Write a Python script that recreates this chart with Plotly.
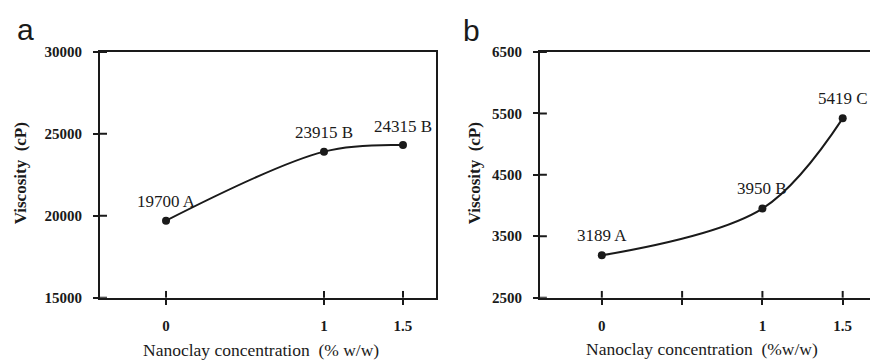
import plotly.graph_objects as go

conc = [0, 1, 1.5]
visc_a = [19700, 23915, 24315]
visc_b = [3189, 3950, 5419]
labels_a = ["19700 A", "23915 B", "24315 B"]
labels_b = ["3189 A", "3950 B", "5419 C"]
xticks_a = [0, 1, 1.5]
xticks_b = [0, 0.5, 1, 1.5]
xticklabels_a = ["0", "1", "1.5"]
xticklabels_b = ["0", "", "1", "1.5"]
yticks_a = [15000, 20000, 25000, 30000]
yticks_b = [2500, 3500, 4500, 5500, 6500]
yticklabels_a = ["15000", "20000", "25000", "30000"]
yticklabels_b = ["2500", "3500", "4500", "5500", "6500"]

INK = "#1a1a1a"
SERIF = "Liberation Serif"
tickfont = dict(family=SERIF, size=15, color=INK, weight="bold")

fig = go.Figure()

xa_dom = [100/870, 436/870]
xb_dom = [540/870, 1.0]
y_dom = [1-303/363, 1-46/363]
xa_rng = [-0.418, 1.709]
xb_rng = [-0.385, 1.67]
ya_rng = [15000, 30000]
yb_rng = [2500, 6500]

fig.add_trace(go.Scatter(x=conc, y=visc_a, mode="lines+markers", xaxis="x", yaxis="y",
                         line=dict(color=INK, width=2, shape="spline", smoothing=1.0),
                         marker=dict(color=INK, size=8), showlegend=False))
fig.add_trace(go.Scatter(x=conc, y=visc_b, mode="lines+markers", xaxis="x2", yaxis="y2",
                         line=dict(color=INK, width=2, shape="spline", smoothing=1.0),
                         marker=dict(color=INK, size=8), showlegend=False))

def axis(dom, rng, vals, text, anchor, mirror, standoff):
    return dict(domain=dom, range=rng, tickvals=vals, ticktext=text, anchor=anchor, mirror=mirror,
                showgrid=False, zeroline=False, showline=True, linecolor=INK, linewidth=2,
                ticks="outside", ticklen=5, tickwidth=2, tickcolor=INK, tickfont=tickfont,
                ticklabelstandoff=standoff)

fig.update_layout(
    width=870, height=363, margin=dict(l=0, r=0, t=0, b=0),
    paper_bgcolor="white", plot_bgcolor="white",
    xaxis=axis(xa_dom, xa_rng, xticks_a, xticklabels_a, "y", True, 8),
    yaxis=axis(y_dom, ya_rng, yticks_a, yticklabels_a, "x", True, 8),
    xaxis2=axis(xb_dom, xb_rng, xticks_b, xticklabels_b, "y2", True, 8),
    yaxis2=axis(y_dom, yb_rng, yticks_b, yticklabels_b, "x2", False, 8),
)

# inner half of the crossing tick marks, at the same tick values
IN_X = 7 / 257   # fraction of plot height
IN_Y = 7 / 336   # fraction of plot width
for xr, yr, vals in (("x", "y", xticks_a), ("x2", "y2", xticks_b)):
    for v in vals:
        fig.add_shape(type="line", xref=xr, yref=f"{yr} domain", x0=v, x1=v, y0=0, y1=IN_X,
                      line=dict(color=INK, width=2))
for xr, yr, vals in (("x", "y", yticks_a), ("x2", "y2", yticks_b)):
    for v in vals:
        fig.add_shape(type="line", xref=f"{xr} domain", yref=yr, x0=0, x1=IN_Y, y0=v, y1=v,
                      line=dict(color=INK, width=2))

annfont = dict(family=SERIF, size=17, color=INK)
for xv, yv, t in zip(conc, visc_a, labels_a):
    fig.add_annotation(x=xv, y=yv, xref="x", yref="y", text=t, showarrow=False,
                       yshift=19, font=annfont)
for i, (xv, yv, t) in enumerate(zip(conc, visc_b, labels_b)):
    if i == 2:
        fig.add_annotation(x=xv, y=yv, xref="x2", yref="y2", text=t, showarrow=False,
                           yshift=20, xshift=27, xanchor="right", font=annfont)
    else:
        fig.add_annotation(x=xv, y=yv, xref="x2", yref="y2", text=t, showarrow=False,
                           yshift=20, font=annfont)

# panel letters
fig.add_annotation(x=25/870, y=1-23/363, xref="paper", yref="paper", text="a", showarrow=False,
                   font=dict(family="Liberation Sans", size=30, color=INK), xanchor="center", yanchor="middle")
fig.add_annotation(x=471/870, y=1-24/363, xref="paper", yref="paper", text="b", showarrow=False,
                   font=dict(family="Liberation Sans", size=30, color=INK), xanchor="center", yanchor="middle")

# axis titles
titlefont = dict(family=SERIF, size=17.5, color=INK)
fig.add_annotation(x=261/870, y=1-358/363, xref="paper", yref="paper",
                   text="Nanoclay concentration&nbsp;&nbsp;(% w/w)", showarrow=False, font=titlefont,
                   xanchor="center", yanchor="middle")
fig.add_annotation(x=702/870, y=1-357/363, xref="paper", yref="paper",
                   text="Nanoclay concentration&nbsp;&nbsp;(%w/w)", showarrow=False, font=titlefont,
                   xanchor="center", yanchor="middle")
ytfont = dict(family=SERIF, size=17, color=INK, weight="bold")
fig.add_annotation(x=20/870, y=1-173/363, xref="paper", yref="paper",
                   text="Viscosity&nbsp;&nbsp;(cP)", showarrow=False, font=ytfont,
                   textangle=-90, xanchor="center", yanchor="middle")
fig.add_annotation(x=474/870, y=1-173/363, xref="paper", yref="paper",
                   text="Viscosity&nbsp;&nbsp;(cP)", showarrow=False, font=ytfont,
                   textangle=-90, xanchor="center", yanchor="middle")

fig.write_html("out.html", config={"displayModeBar": False},
               post_script="document.body.style.margin='0px';document.body.style.overflow='hidden';")
